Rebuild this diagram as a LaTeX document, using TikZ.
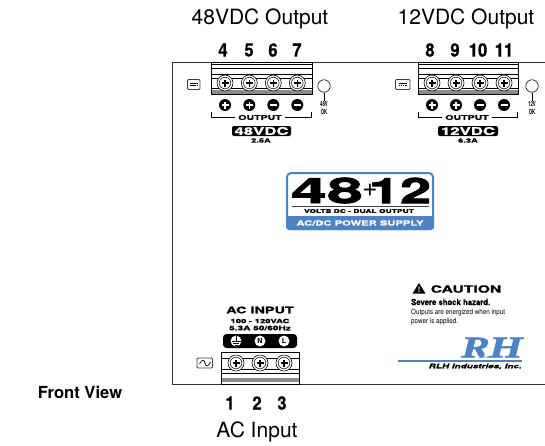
\documentclass[tikz,border=0pt]{standalone}
\usepackage{fontspec}
\setmainfont{TeX Gyre Heros}
\newfontfamily\widefont[FakeStretch=1.6,FakeBold=1.2]{TeX Gyre Heros}
\newfontfamily\heavyfont[FakeStretch=1.6,FakeBold=2.5]{TeX Gyre Heros}
\newfontfamily\heavierfont[FakeStretch=1.85,FakeBold=2.5]{TeX Gyre Heros}
\newfontfamily\narrowfont[FakeStretch=0.87]{TeX Gyre Heros}
\newfontfamily\numfont[FakeStretch=0.9,FakeBold=0.6]{TeX Gyre Heros}
\newfontfamily\okfont[FakeStretch=0.62]{TeX Gyre Heros}
\newfontfamily\logofont[FakeStretch=1.45,FakeBold=1.5]{Liberation Serif}
\definecolor{rlhblue}{HTML}{4D82C3}
\tikzset{
    lbl/.style={inner sep=0pt, font=\fontsize{#1}{#1}\selectfont},
    num/.style={inner sep=0pt, font=\fontsize{18.5}{18.5}\selectfont\numfont\bfseries},
    wide/.style={inner sep=0pt, font=\fontsize{#1}{#1}\selectfont\widefont\bfseries},
    oklbl/.style={inner sep=0pt, align=center, font=\fontsize{7}{7.8}\selectfont\okfont\bfseries},
    blackbox/.style={fill=black, rounded corners=2pt},
    block/.style={draw=black, line width=1pt, fill=white},
    blockline/.style={line width=0.6pt},
    band/.style={fill=black!45},
    bracket/.style={line width=0.7pt},
    icon/.style={draw=black!75, line width=0.8pt, rounded corners=1pt, fill=white},
    led/.style={circle, draw=black, line width=0.6pt, minimum size=12.5pt, inner sep=0pt},
    screw/.style={circle, draw=black, fill=white, line width=0.6pt, minimum size=16pt, inner sep=0pt,
        path picture={
            \draw[line width=0.5pt] (path picture bounding box.center) circle (5.8pt);
            \draw[line width=1.3pt] ([xshift=-3.5pt]path picture bounding box.center) -- ([xshift=3.5pt]path picture bounding box.center);
            \draw[line width=1.3pt] ([yshift=-3.5pt]path picture bounding box.center) -- ([yshift=3.5pt]path picture bounding box.center);
        }},
    minusmark/.style={circle, fill=black, minimum size=12pt, inner sep=0pt,
        path picture={
            \draw[white, line width=1.6pt] ([xshift=-3.5pt]path picture bounding box.center) -- ([xshift=3.5pt]path picture bounding box.center);
        }},
    plusmark/.style={minusmark,
        path picture={
            \draw[white, line width=1.6pt] ([xshift=-3.5pt]path picture bounding box.center) -- ([xshift=3.5pt]path picture bounding box.center);
            \draw[white, line width=1.6pt] ([yshift=-3.5pt]path picture bounding box.center) -- ([yshift=3.5pt]path picture bounding box.center);
        }},
    acmark/.style={circle, fill=white, minimum size=11pt, inner sep=0pt, font=\fontsize{7}{7}\selectfont\bfseries},
}
\begin{document}
\begin{tikzpicture}[x=1pt, y=-1pt]
        \useasboundingbox (0,0) rectangle (545,445);
        \draw[black!80, line width=1pt] (545,62) -- (172.5,62) -- (172.5,384) -- (545,384);

        \node[lbl=21] (title48) at (260,19) {48VDC Output};
        \node[lbl=21] (title12) at (466,19) {12VDC Output};
        \node[lbl=21] (titleac) at (257,432) {AC Input};
        \node[inner sep=0pt, font=\fontsize{16.6}{17}\selectfont\bfseries] (front) at (80,392) {Front View};

        \node[num] (n4) at (223,50) {4};
        \node[num] (n5) at (249,50) {5};
        \node[num] (n6) at (273,50) {6};
        \node[num] (n7) at (297,50) {7};
        \node[num] (n8) at (430,50) {8};
        \node[num] (n9) at (455,50) {9};
        \node[num] (n10) at (478,50) {10};
        \node[num] (n11) at (504,50) {11};
        \node[num] (n1) at (230,403) {1};
        \node[num] (n2) at (257,403) {2};
        \node[num] (n3) at (282,403) {3};

        \draw[block] (211,62) rectangle (312,94);
        \fill[band] (211.5,89.5) rectangle (311.5,93.5);
        \draw[blockline] (211,64) -- (312,64);
        \draw[blockline] (211,68) -- (312,68);
        \draw[blockline] (211,74) -- (312,74);
        \draw[blockline] (211,78) -- (312,78);
        \draw[blockline] (211,88) -- (312,88);
        \node[screw] (s4) at (225,83) {};
        \node[screw] (s5) at (249.3,83) {};
        \node[screw] (s6) at (273.3,83) {};
        \node[screw] (s7) at (297.3,83) {};

        \draw[block] (418,62) rectangle (518,94);
        \fill[band] (418.5,89.5) rectangle (517.5,93.5);
        \draw[blockline] (418,64) -- (518,64);
        \draw[blockline] (418,68) -- (518,68);
        \draw[blockline] (418,74) -- (518,74);
        \draw[blockline] (418,78) -- (518,78);
        \draw[blockline] (418,88) -- (518,88);
        \node[screw] (s8) at (432,83) {};
        \node[screw] (s9) at (456,83) {};
        \node[screw] (s10) at (480,83) {};
        \node[screw] (s11) at (504,83) {};

        \draw[block] (221,352) rectangle (299,384);
        \fill[band] (221.5,378) rectangle (298.5,382);
        \draw[blockline] (221,358) -- (299,358);
        \draw[blockline] (221,369) -- (299,369);
        \draw[blockline] (221,373) -- (299,373);
        \node[screw] (s1) at (236,363) {};
        \node[screw] (s2) at (260,363) {};
        \node[screw] (s3) at (284,363) {};

        \node[plusmark] (p4) at (225,105) {};
        \node[plusmark] (p5) at (249.3,105) {};
        \node[minusmark] (p6) at (273.3,105) {};
        \node[minusmark] (p7) at (297.3,105) {};
        \node[plusmark] (p8) at (432,105) {};
        \node[plusmark] (p9) at (456,105) {};
        \node[minusmark] (p10) at (480,105) {};
        \node[minusmark] (p11) at (504,105) {};

        \draw[bracket] (211,111.5) -- (211,117.5) -- (311,117.5) -- (311,111.5);
        \node[wide=6.6, fill=white, inner xsep=3pt] (out48) at (260,117.5) {OUTPUT};
        \draw[bracket] (418,111.5) -- (418,117.5) -- (517,117.5) -- (517,111.5);
        \node[wide=6.6, fill=white, inner xsep=3pt] (out12) at (467,117.5) {OUTPUT};

        \fill[blackbox] (232,126) rectangle (291,136);
        \node[wide=10.5, white] (v48) at (261.5,131) {48VDC};
        \node[wide=5.8] (a48) at (261,140.5) {2.5A};
        \fill[blackbox] (438,126) rectangle (498,136);
        \node[wide=10.5, white] (v12) at (468,131) {12VDC};
        \node[wide=5.8] (a12) at (468,140.5) {6.3A};

        \node[led] (led48) at (324,86) {};
        \node[oklbl] (ok48) at (324,108) {48V\\OK};
        \draw[line width=0.6pt] (led48) -- (ok48);
        \node[led] (led12) at (532,86) {};
        \node[oklbl] (ok12) at (532,108) {12V\\OK};
        \draw[line width=0.6pt] (led12) -- (ok12);

        \draw[icon] (187.5,79.5) rectangle (200,89.5);
        \draw[line width=0.7pt] (190,83) -- (197.5,83);
        \draw[line width=0.7pt, dash pattern=on 1.5pt off 0.7pt] (190,85.5) -- (197.5,85.5);
        \draw[icon] (395.5,79.5) rectangle (410,89.5);
        \draw[line width=0.7pt] (398.5,83) -- (407,83);
        \draw[line width=0.7pt, dash pattern=on 1.5pt off 0.7pt] (398.5,85.5) -- (407,85.5);
        \draw[icon] (197,358) rectangle (212.5,368);
        \draw[line width=0.7pt] (199.5,364) .. controls (202,359) and (204,359) .. (205,363) .. controls (206,367) and (208,367) .. (210.5,362);

        \draw[rlhblue, line width=2pt, rounded corners=4pt] (287,173) rectangle (433,229);
        \fill[rlhblue, rounded corners=3pt] (286,216) rectangle (434,230);
        \node[inner sep=0pt, font=\fontsize{35}{35}\selectfont\heavierfont\bfseries] (big48) at (327,190.5) {48};
        \node[inner sep=0pt, font=\fontsize{26}{26}\selectfont] (bigplus) at (370,190) {+};
        \node[inner sep=0pt, font=\fontsize{35}{35}\selectfont\heavyfont\bfseries] (big12) at (400,190.5) {12};
        \draw[line width=1pt, black!75] (292,206) -- (429,206);
        \node[wide=5.3] (volts) at (359,211) {VOLTS DC - DUAL OUTPUT};
        \node[wide=7, white] (acdc) at (360,223) {AC/DC POWER SUPPLY};

        \node[wide=9] (acin) at (260,310) {AC INPUT};
        \node[wide=5.9] (acv) at (260,321) {100 - 120VAC};
        \node[wide=6.3] (aca) at (260,328) {5.3A 50/60Hz};
        \fill[blackbox, rounded corners=3.5pt] (223,334) rectangle (297,348);
        \node[acmark] (gnd) at (236,341) {};
        \draw[line width=0.8pt] (gnd.north) -- (236,341);
        \draw[line width=0.8pt] (231.5,341) -- (240.5,341);
        \draw[line width=0.8pt] (233,343) -- (239,343);
        \draw[line width=0.8pt] (234.5,345) -- (237.5,345);
        \node[acmark] (neutral) at (260,341) {N};
        \node[acmark] (live) at (284,341) {L};

        \fill (419,283) -- (425.5,293.5) -- (412.5,293.5) -- cycle;
        \node[inner sep=0pt, white, font=\fontsize{7.5}{7.5}\selectfont\bfseries] (bang) at (419,289.5) {!};
        \node[wide=9.8] (caution) at (466,289) {CAUTION};
        \node[inner sep=0pt, anchor=west, font=\fontsize{8.6}{9}\selectfont\numfont\bfseries] (severe) at (411,302) {Severe shock hazard.};
        \node[inner sep=0pt, anchor=west, font=\fontsize{7.2}{8}\selectfont\narrowfont] (outs) at (411,313) {Outputs are energized when input};
        \node[inner sep=0pt, anchor=west, font=\fontsize{7.2}{8}\selectfont\narrowfont] (applied) at (411,322) {power is applied.};

        \node[inner sep=0pt, rlhblue, anchor=east, font=\fontsize{30}{30}\selectfont\logofont\bfseries\itshape] (rlhlogo) at (523,347.5) {R\kern-7pt{\fontsize{10}{10}\selectfont\color{white}L}\kern-3pt H};
        \draw[rlhblue, line width=1.3pt] (398,361) -- (522,361);
        \node[inner sep=0pt, anchor=east, font=\fontsize{6.2}{7}\selectfont\widefont\bfseries\itshape] (rlhname) at (522,366.5) {RLH Industries, Inc.};
    \end{tikzpicture}
\end{document}
